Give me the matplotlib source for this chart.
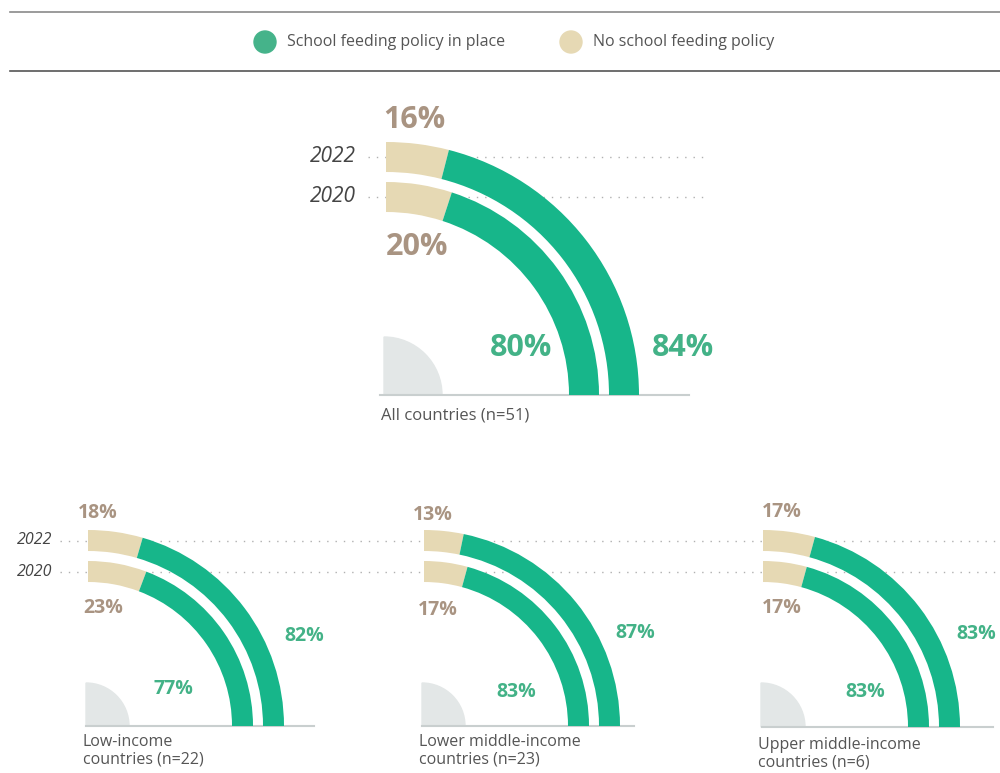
import numpy as np
import matplotlib
matplotlib.use("Agg")
import matplotlib.pyplot as plt
from matplotlib.patches import Wedge, Circle

plt.rcParams["font.family"] = ["Open Sans", "DejaVu Sans"]

# ---- data ----
panel_labels = [
    "All countries (n=51)",
    "Low-income\ncountries (n=22)",
    "Lower middle-income\ncountries (n=23)",
    "Upper middle-income\ncountries (n=6)",
]
years = ["2022", "2020"]
policy_2022 = [84, 82, 87, 83]
policy_2020 = [80, 77, 83, 83]
no_policy_2022 = [16, 18, 13, 17]
no_policy_2020 = [20, 23, 17, 17]
legend_labels = ["School feeding policy in place", "No school feeding policy"]

# ---- styles ----
GREEN = "#17b68a"
GREEN_TXT = "#43b287"
TAN = "#e6d9b4"
TAN_TXT = "#a99482"
GREY_DISC = "#e3e7e7"
BASE = "#c9cfcf"
TXT = "#555555"

# ---- layout (pixel coords, y downwards) ----
# centre, outer radius of 2022 arc, outer radius of 2020 arc, ring width,
# grey disc radius, baseline length, fonts, label offsets from centre
layout = [
    dict(c=(386, 395), r22=253, r20=213, w=30, disc=58, base=309, b0=-6,
         pct=22, yr=15, lab=12, cap=13,
         t22=(-3, -275), t20=(0, -148), g22=(266, -47), g20=(104, -47)),
    dict(c=(88, 726), r22=196, r20=165, w=21, disc=43, base=228, b0=-2,
         pct=14, yr=11.5, lab=11.5, cap=8,
         t22=(-10, -213), t20=(-5, -118), g22=(196, -90), g20=(65, -37)),
    dict(c=(424, 726), r22=196, r20=165, w=21, disc=43, base=212, b0=-2,
         pct=14, yr=11.5, lab=11.5, cap=8,
         t22=(-11, -211), t20=(-6, -116), g22=(191, -93), g20=(72, -34)),
    dict(c=(763, 727), r22=197, r20=166, w=21, disc=44, base=231, b0=-1,
         pct=14, yr=11.5, lab=11.5, cap=10,
         t22=(-1, -215), t20=(-1, -119), g22=(193, -93), g20=(82, -35)),
]

fig = plt.figure(figsize=(10, 7.73), dpi=100)
ax = fig.add_axes([0, 0, 1, 1])
ax.set_xlim(0, 1000)
ax.set_ylim(773, 0)
ax.set_aspect("equal")
ax.axis("off")

# legend block
ax.plot([10, 1000], [12, 12], color="#8a8a8a", lw=1.2)
ax.plot([10, 1000], [71, 71], color="#555555", lw=1.2)
ax.add_patch(Circle((265, 42), 11, color="#45b38a"))
ax.text(287, 42, legend_labels[0], fontsize=11.5, color=TXT, va="center")
ax.add_patch(Circle((571, 42), 11, color=TAN))
ax.text(593, 42, legend_labels[1], fontsize=11.5, color=TXT, va="center")

# dotted guide lines
dot = dict(color="#b0b0b0", lw=1.0, linestyle=(0, (1, 5)), zorder=1)
cx0, cy0 = layout[0]["c"]
for r in (layout[0]["r22"], layout[0]["r20"]):
    y = cy0 - r + layout[0]["w"] / 2
    ax.plot([368, 703], [y, y], **dot)
cxs, cys = layout[1]["c"]
for r in (layout[1]["r22"], layout[1]["r20"]):
    y = cys - r + layout[1]["w"] / 2
    ax.plot([60, 1000], [y, y], **dot)

for i, L in enumerate(layout):
    cx, cy = L["c"]
    w = L["w"]
    # grey disc and baseline
    ax.add_patch(Wedge((cx - 2, cy), L["disc"], -90, 0, color=GREY_DISC, zorder=2))
    ax.plot([cx + L["b0"], cx + L["b0"] + L["base"]], [cy, cy], color=BASE,
            lw=1.5, zorder=2)

    for r, no_pol in ((L["r22"], no_policy_2022[i]), (L["r20"], no_policy_2020[i])):
        split = -90 + 90 * no_pol / 100
        ax.add_patch(Wedge((cx, cy), r, -90, split, width=w, color=TAN,
                           lw=0, zorder=3))
        ax.add_patch(Wedge((cx, cy), r, split, 0, width=w, color=GREEN,
                           lw=0, zorder=3))

    # year labels
    if i < 2:
        xr = 356 if i == 0 else 52
        for yrlab, r in zip(years, (L["r22"], L["r20"])):
            ax.text(xr, cy - r + w / 2, yrlab, fontsize=L["yr"], style="italic",
                    color="#444444", ha="right", va="center")

    # percentage labels
    bold = dict(fontsize=L["pct"], fontweight="bold", va="center", ha="left")
    ax.text(cx + L["t22"][0], cy + L["t22"][1], f"{no_policy_2022[i]}%",
            color=TAN_TXT, **bold)
    ax.text(cx + L["t20"][0], cy + L["t20"][1], f"{no_policy_2020[i]}%",
            color=TAN_TXT, **bold)
    ax.text(cx + L["g22"][0], cy + L["g22"][1], f"{policy_2022[i]}%",
            color=GREEN_TXT, **bold)
    ax.text(cx + L["g20"][0], cy + L["g20"][1], f"{policy_2020[i]}%",
            color=GREEN_TXT, **bold)

    # panel caption
    ax.text(cx - 5, cy + L["cap"], panel_labels[i], fontsize=L["lab"], color=TXT,
            ha="left", va="top", linespacing=1.1)

fig.savefig("out.png", dpi=100)
